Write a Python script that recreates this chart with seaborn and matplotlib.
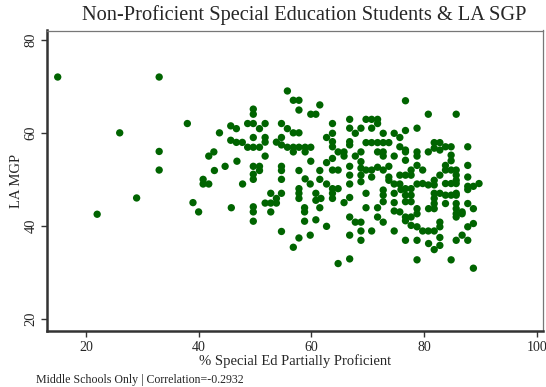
import matplotlib
matplotlib.use("Agg")
import matplotlib.pyplot as plt
import seaborn as sns
import pandas as pd

# % of special-ed students partially proficient, per middle school
pct_partial = [
    15, 33, 38, 26, 43.7, 33, 42.7, 41.8, 33, 42.8, 40.8, 40.8, 41.8, 29, 39, 40, 22,
    55.75, 56.8, 57.8, 57.8, 61.5, 59.9, 60.8, 49.7, 49.7, 45.7, 46.7, 48.7, 49.7, 51.8,
    50.8, 54.7, 55.75, 56.8, 57.8, 45.7, 46.7, 47.75, 49.7, 51.8, 51.8, 48.7, 49.7, 50.8,
    53.8, 54.7, 54.7, 55.75, 56.8, 57.8, 58.9, 59.9, 56.8, 58.9, 59.9, 46.8, 51.8, 44.7,
    49.7, 50.8, 50.8, 54.7, 54.7, 57.8, 61.5, 54.7, 58.9,
    49.7, 49.7, 59.8, 61.5, 47.8, 52.8, 54.7, 57.8, 57.8, 57.8, 60.8, 60.8, 53.8, 53.8,
    52.8, 51.8, 45.8, 49.7, 49.7, 52.8, 58.8, 58.8, 61.5, 60.8, 49.7, 58.8, 54.7, 59.8,
    57.8, 56.8,
    76.7, 63.75, 66.8, 69.7, 70.7, 71.75, 66.8, 67.8, 68.8, 70.7, 71.75, 63.75, 72.75,
    74.7, 76.7, 62.7, 63.75, 63.75, 66.8, 66.8, 69.7, 70.7, 71.75, 72.75, 73.75, 75.7,
    75.7, 76.7, 64.75, 65.8, 65.8, 68.8, 67.8, 71.75, 72.75, 72.75, 63.75, 74.7, 76.7,
    76.7, 62.7, 63.75, 64.75, 66.8, 68.8, 68.8, 69.7, 70.7, 71.75, 72.75, 73.75, 75.7,
    76.7, 77.7, 66.8, 68.8,
    68.8, 70.7, 73.75, 73.75, 62.7, 63.75, 64.75, 66.8, 61.7, 63.75, 63.75, 66.8, 65.8,
    69.7, 72.75, 72.75, 72.75, 74.7, 74.7, 75.7, 74.7, 76.7, 76.7, 76.7, 77.7, 77.7,
    77.7, 69.7, 71.75, 74.7, 75.7, 76.7, 76.7, 77.7, 77.7, 66.8, 67.8, 68.8, 71.75,
    72.75, 62.7, 66.8, 68.8, 68.8, 70.7, 74.7, 76.7, 66.8, 64.75,
    80.75, 85.7, 78.75, 78.75, 78.75, 80.75, 81.8, 82.8, 83.8, 84.8, 81.8, 82.8, 87.75,
    84.8, 84.8, 78.75, 79.75, 77.7, 83.8, 83.8, 85.7, 85.7, 81.8, 82.8, 87.75, 87.75,
    89.75, 79.75, 80.75, 81.8, 83.8, 84.8, 85.7, 87.75, 88.75,
    78.75, 75.9, 78.75, 78.75, 81.8, 81.8, 81.8, 81.8, 82.8, 83.8, 84.8, 85.7, 85.7,
    85.7, 85.7, 83.8, 80.8, 87.75, 88.75, 86.75, 87.75, 78.75, 79.75, 80.75, 81.8,
    82.8, 82.8, 87.75, 88.75, 86.75, 85.7, 87.75, 78.75, 82.8, 82.8, 80.8, 81.8,
    78.75, 84.8, 88.75, 85.7, 86.75, 84.8, 85.7, 85.7,
]

# LA median growth percentile, same order
la_mgp = [
    72, 72, 62, 60, 60, 56, 55.9, 55.0, 52, 51.9, 50.0, 49.0, 49.0, 46, 45, 43, 42.5,
    69, 67, 67, 64.9, 66, 64, 64, 65.1, 64, 61.5, 60.9, 62, 62, 62,
    60.9, 62, 60.9, 60, 60, 58.4, 57.95, 57.95, 59, 59, 58, 56.9, 56.9, 56.9,
    58, 59, 57.4, 56.9, 56.9, 56.9, 56.9, 56.9, 55.9, 55.9, 53.9, 53.9, 55, 52.8,
    52.8, 52.8, 51.9, 52.8, 51.9, 51.9, 51.9, 50.0, 50.1,
    51.1, 50.0, 49.0, 50.0, 49.0, 47.0, 47.0, 48.0, 47.0, 45.9, 47.0, 45.5, 45.9, 44.9,
    44.9, 44.9, 43.9, 44.1, 43.0, 43.0, 43.9, 43.0, 43.9, 41.3, 41.0, 41.0, 38.8, 38.0,
    37.4, 35.4,
    66.9, 62.0, 62.9, 62.9, 62.9, 62.9, 61.0, 59.9, 61.0, 61.0, 62.0, 59.9, 59.9,
    59.9, 60.5, 59.0, 58.1, 57.0, 58.1, 57.4, 57.9, 57.9, 57.9, 57.9, 57.9, 59.0,
    57.0, 56.3, 55.9, 55.9, 55.0, 55.9, 55.0, 55.9, 55.9, 55.0, 54.5, 55.0, 55.9,
    54.1, 53.6, 52.0, 52.0, 52.8, 53.8, 52.4, 52.0, 52.0, 52.6, 52.0, 52.8, 50.9,
    50.9, 50.9, 50.9, 50.9,
    49.5, 50.5, 50.5, 49.8, 49.0, 48.0, 48.0, 49.0, 45.9, 47.0, 45.9, 46.1, 45.0,
    47.0, 47.7, 46.6, 45.2, 47.0, 45.0, 49.0, 49.0, 48.0, 46.6, 45.2, 48.0, 46.6,
    45.2, 43.9, 43.9, 43.2, 43.0, 41.9, 41.1, 41.9, 40.1, 41.9, 40.8, 40.8, 41.9,
    40.8, 39.9, 38.0, 38.9, 36.9, 38.9, 38.9, 36.9, 32.9, 31.9,
    64.0, 64.0, 61.0, 55.9, 55.0, 55.9, 57.9, 57.9, 57.0, 57.0, 56.7, 56.3, 57.0,
    55.2, 54.0, 53.0, 52.0, 52.0, 53.0, 52.0, 52.0, 50.9, 49.8, 50.9, 53.0, 50.5,
    49.1, 49.1, 48.8, 48.8, 49.1, 49.1, 49.1, 48.5, 48.5,
    49.0, 47.8, 43.7, 42.6, 47.0, 45.9, 44.8, 43.7, 47.0, 46.6, 46.6, 46.6, 44.8,
    43.7, 42.6, 44.8, 43.7, 44.8, 43.7, 42.6, 47.8, 39.8, 38.9, 38.9, 38.9,
    40.8, 39.8, 39.8, 40.5, 38.0, 36.9, 36.9, 36.9, 37.5, 35.8, 36.2, 34.9,
    32.7, 32.7, 30.9, 49.8, 43.0, 52.0, 47.0, 41.9,
]

x_ticks = [20, 40, 60, 80, 100]
y_ticks = [20, 40, 60, 80]

title = "Non-Proficient Special Education Students & LA SGP"
x_label = "% Special Ed Partially Proficient"
y_label = "LA MGP"
note = "Middle Schools Only | Correlation=-0.2932"

df = pd.DataFrame({"pct": pct_partial, "mgp": la_mgp})

sns.set_style("white")
plt.rcParams["font.family"] = ["Liberation Serif", "DejaVu Serif"]

fig = plt.figure(figsize=(5.46, 3.87), dpi=100)
ax = fig.add_axes([47 / 546, 1 - 331 / 387, (543 - 47) / 546, (331 - 30.5) / 387])

sns.scatterplot(data=df, x="pct", y="mgp", ax=ax, color="#006400",
                s=28, edgecolor="none", linewidth=0, legend=False)

ax.set_xlim(13.1, 101.1)
ax.set_ylim(17.4, 82.0)
ax.set_xticks(x_ticks)
ax.set_yticks(y_ticks)
ax.set_xticklabels([str(v) for v in x_ticks], fontsize=10)
ax.set_yticklabels([str(v) for v in y_ticks], fontsize=10.5, rotation=90, va="center")
ax.tick_params(axis="both", direction="out", length=4, width=1, color="#333333",
               bottom=True, left=True, pad=3)
ax.set_xlabel(x_label, fontsize=10.5, labelpad=0)
ax.set_ylabel(y_label, fontsize=10.5, labelpad=1)

for side in ["left", "bottom"]:
    ax.spines[side].set_color("#333333")
    ax.spines[side].set_linewidth(1.8)
for side in ["top", "right"]:
    ax.spines[side].set_color("#777777")
    ax.spines[side].set_linewidth(0.9)

fig.text(304 / 546, 1 - 15 / 387, title, ha="center", va="center", fontsize=14.7)
fig.text(36 / 546, 1 - 380 / 387, note, ha="left", va="center", fontsize=8.6)

fig.savefig("out.png", dpi=100, facecolor="white")
